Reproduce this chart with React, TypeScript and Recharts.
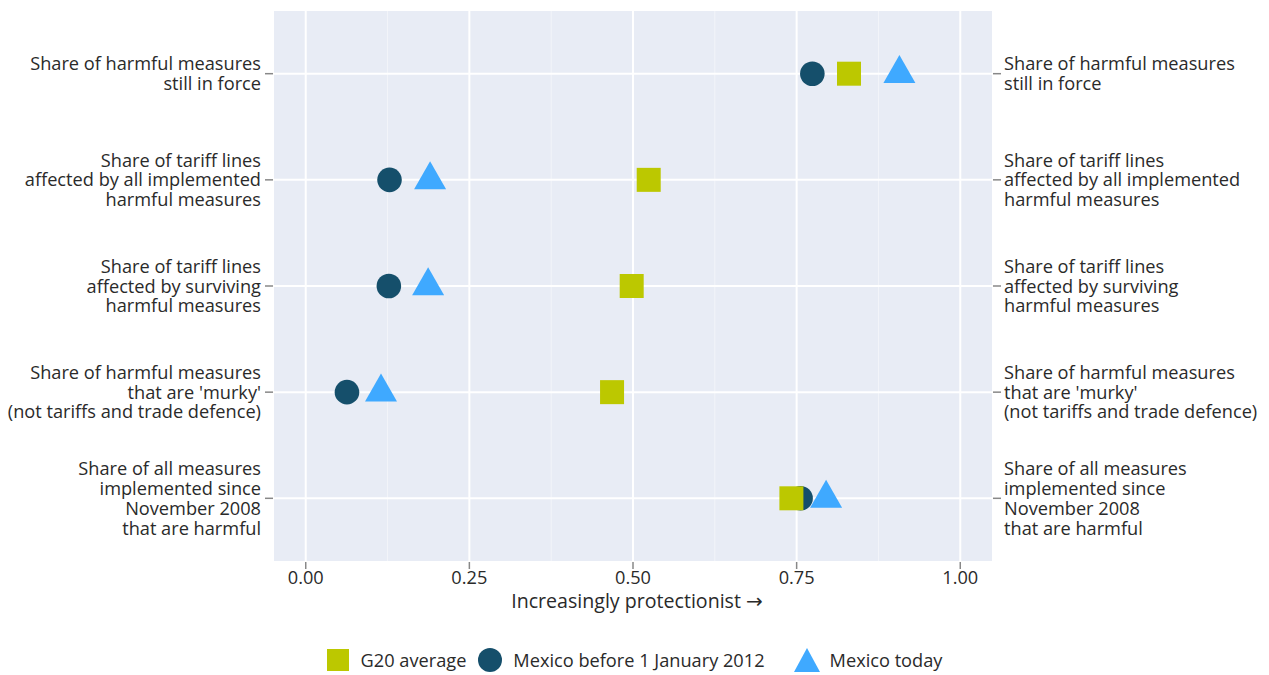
import React from "react";
import {
  ComposedChart,
  Scatter,
  XAxis,
  YAxis,
  CartesianGrid,
  ReferenceLine,
  Legend,
  Label,
} from "recharts";

const categories: string[][] = [
  ["Share of harmful measures", "still in force"],
  ["Share of tariff lines", "affected by all implemented", "harmful measures"],
  ["Share of tariff lines", "affected by surviving", "harmful measures"],
  ["Share of harmful measures", "that are 'murky'", "(not tariffs and trade defence)"],
  ["Share of all measures", "implemented since", "November 2008", "that are harmful"],
];

const g20Average = [0.83, 0.524, 0.498, 0.468, 0.742];
const mexicoBefore = [0.774, 0.128, 0.127, 0.063, 0.756];
const mexicoToday = [0.907, 0.19, 0.187, 0.115, 0.795];

const xTicks = [0, 0.25, 0.5, 0.75, 1];
const xMinor = [0.125, 0.375, 0.625, 0.875];
const yTicks = [1, 2, 3, 4, 5];

const COLORS = {
  g20: "#BCC800",
  before: "#154F6B",
  today: "#3FA9FF",
};

const FONT = "'Open Sans', 'Noto Sans', sans-serif";
const TEXT = "#2a2a2a";
const FS = 18.2;

const toPoints = (vals: number[]) => vals.map((v, i) => ({ x: v, y: i + 1 }));

const SquareShape = (props: any) => {
  const { cx, cy } = props;
  const s = 24;
  return <rect x={cx - s / 2} y={cy - s / 2} width={s} height={s} fill={COLORS.g20} />;
};
const CircleShape = (props: any) => {
  const { cx, cy } = props;
  return <circle cx={cx} cy={cy} r={12.3} fill={COLORS.before} />;
};
const TriangleShape = (props: any) => {
  const { cx, cy } = props;
  const w = 32;
  const h = 28;
  const top = cy - (2 * h) / 3;
  const bottom = cy + h / 3;
  return (
    <path
      d={`M${cx},${top} L${cx + w / 2},${bottom} L${cx - w / 2},${bottom} Z`}
      fill={COLORS.today}
    />
  );
};
const EmptyShape = () => <g />;

const makeTick = (anchor: "start" | "end") => (props: any) => {
  const { x, y, payload } = props;
  const lines = categories[payload.value - 1] || [];
  const lh = 19.8;
  const start = -((lines.length - 1) * lh) / 2;
  return (
    <text
      x={x}
      y={y}
      textAnchor={anchor}
      fill={TEXT}
      fontSize={FS}
      fontFamily={FONT}
    >
      {lines.map((l, i) => (
        <tspan key={i} x={x} dy={i === 0 ? start + 6.5 : lh}>
          {l}
        </tspan>
      ))}
    </text>
  );
};

const AxisTitle = (props: any) => {
  const vb = props.viewBox || {};
  const cx = (vb.x ?? 0) + (vb.width ?? 0) / 2;
  const y = (vb.y ?? 0) + 46;
  return (
    <text x={cx + 4} y={y} textAnchor="middle" fill={TEXT} fontSize={19.6} fontFamily={FONT}>
      <tspan>Increasingly protectionist </tspan>
      <tspan fontFamily="'DejaVu Sans', sans-serif" fontSize={20}>→</tspan>
    </text>
  );
};

const LegendContent = () => {
  const item = (
    shape: React.ReactNode,
    w: number,
    label: string,
    textGap: number,
    after: number
  ) => (
    <div style={{ display: "flex", alignItems: "center", marginRight: after }}>
      <svg width={w} height={26} style={{ marginRight: textGap, display: "block" }}>
        {shape}
      </svg>
      <span style={{ fontFamily: FONT, fontSize: FS, color: TEXT, whiteSpace: "nowrap" }}>
        {label}
      </span>
    </div>
  );
  return (
    <div
      style={{
        display: "flex",
        justifyContent: "center",
        alignItems: "center",
        paddingTop: 27,
        paddingLeft: 0,
      }}
    >
      {item(<rect x={0} y={2} width={22} height={22} fill={COLORS.g20} />, 22, "G20 average", 12, 12)}
      {item(<circle cx={12} cy={13} r={12} fill={COLORS.before} />, 24, "Mexico before 1 January 2012", 11, 29)}
      {item(<path d="M13,1 L26,25 L0,25 Z" fill={COLORS.today} />, 26, "Mexico today", 10, 0)}
    </div>
  );
};

export default function App() {
  return (
    <div style={{ position: "absolute", left: 0, top: 0 }}>
      <ComposedChart
        width={1269}
        height={675}
        margin={{ top: 10, right: 0, bottom: 0, left: 0 }}
      >
        <CartesianGrid
          xAxisId="x"
          yAxisId="left"
          fill="#E8ECF5"
          stroke="#ffffff"
          strokeWidth={2}
          horizontal={true}
          vertical={true}
        />
        {xMinor.map((v) => (
          <ReferenceLine
            key={v}
            x={v}
            xAxisId="x"
            yAxisId="left"
            stroke="#ffffff"
            strokeOpacity={0.45}
            strokeWidth={1}
          />
        ))}
        <XAxis
          xAxisId="x"
          type="number"
          dataKey="x"
          domain={[-0.05, 1.05]}
          ticks={xTicks}
          tickFormatter={(v: number) => v.toFixed(2)}
          allowDataOverflow
          height={58}
          axisLine={false}
          tickSize={7}
          tickMargin={2}
          tickLine={{ stroke: "#888", strokeWidth: 1.5 }}
          tick={{ fill: TEXT, fontSize: FS, fontFamily: FONT }}
        >
          <Label content={<AxisTitle />} />
        </XAxis>
        <YAxis
          yAxisId="left"
          orientation="left"
          type="number"
          dataKey="y"
          domain={[0.4, 5.6]}
          reversed
          ticks={yTicks}
          interval={0}
          width={273}
          axisLine={false}
          tickSize={8}
          tickMargin={4}
          tickLine={{ stroke: "#888", strokeWidth: 1.5 }}
          tick={makeTick("end")}
        />
        <YAxis
          yAxisId="right"
          orientation="right"
          type="number"
          dataKey="y"
          domain={[0.4, 5.6]}
          reversed
          ticks={yTicks}
          interval={0}
          width={276}
          axisLine={false}
          tickSize={8}
          tickMargin={3}
          tickLine={{ stroke: "#888", strokeWidth: 1.5 }}
          tick={makeTick("start")}
        />
        <Legend verticalAlign="bottom" height={55} content={<LegendContent />} />
        <Scatter
          name="right-axis-anchor"
          data={toPoints(g20Average)}
          xAxisId="x"
          yAxisId="right"
          shape={EmptyShape}
          legendType="none"
          isAnimationActive={false}
        />
        <Scatter
          name="Mexico before 1 January 2012"
          data={toPoints(mexicoBefore)}
          xAxisId="x"
          yAxisId="left"
          shape={CircleShape}
          isAnimationActive={false}
        />
        <Scatter
          name="G20 average"
          data={toPoints(g20Average)}
          xAxisId="x"
          yAxisId="left"
          shape={SquareShape}
          isAnimationActive={false}
        />
        <Scatter
          name="Mexico today"
          data={toPoints(mexicoToday)}
          xAxisId="x"
          yAxisId="left"
          shape={TriangleShape}
          isAnimationActive={false}
        />
      </ComposedChart>
    </div>
  );
}
